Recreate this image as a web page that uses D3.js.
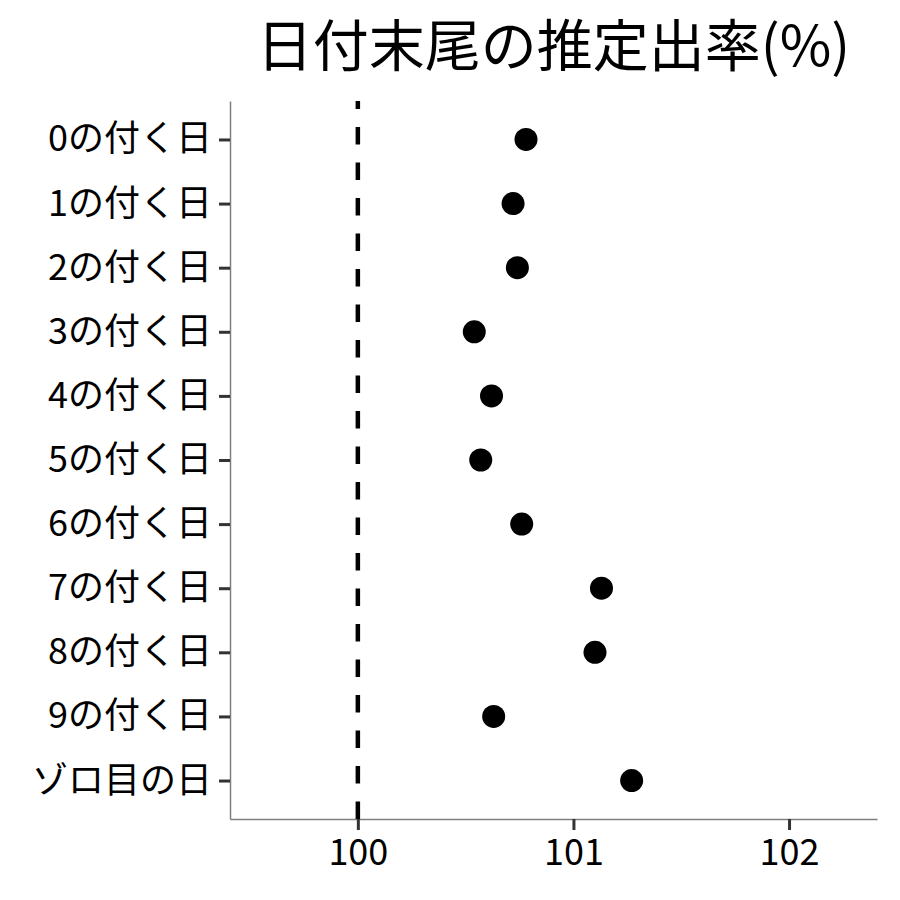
<!DOCTYPE html>
<html>
<head>
<meta charset="utf-8">
<script src="https://cdn.jsdelivr.net/npm/d3@7"></script>
<style>
  body { margin: 0; background: #fff; }
  text { font-family: "Noto Sans CJK JP", "Noto Sans", sans-serif; }
</style>
</head>
<body>
<div id="chart"></div>
<script>
// data
var categories = ["0の付く日", "1の付く日", "2の付く日", "3の付く日", "4の付く日",
  "5の付く日", "6の付く日", "7の付く日", "8の付く日", "9の付く日", "ゾロ目の日"];
var rates = [100.78, 100.72, 100.74, 100.54, 100.62, 100.57, 100.76, 101.13, 101.10, 100.63, 101.27];
var xTicks = [100, 101, 102];
var refValue = 100;
var title = "日付末尾の推定出率(%)";

// dimensions
var margin = { top: 101, right: 23, bottom: 81, left: 230 },
  width = 900 - margin.left - margin.right,
  height = 900 - margin.top - margin.bottom;

var svg = d3.select("#chart")
  .append("svg")
  .attr("width", 900)
  .attr("height", 900)
  .append("g")
  .attr("transform", "translate(" + margin.left + "," + margin.top + ")");

var x = d3.scaleLinear()
  .domain([99.407, 102.408])
  .range([0, width]);

var y = d3.scalePoint()
  .domain(categories)
  .range([0, height])
  .padding(0.6);

// x axis
var xAxis = svg.append("g")
  .attr("transform", "translate(0," + height + ")")
  .call(d3.axisBottom(x).tickValues(xTicks).tickSizeInner(11).tickSizeOuter(0)
    .tickPadding(9).tickFormat(d3.format("d")));
xAxis.select(".domain").attr("stroke", "#7f7f7f").attr("stroke-width", 1.5);
xAxis.selectAll(".tick line").attr("stroke", "#333").attr("stroke-width", 3);
xAxis.selectAll(".tick text").attr("fill", "#000").style("font-size", "36px");

// y axis
var yAxis = svg.append("g")
  .call(d3.axisLeft(y).tickSizeInner(11).tickSizeOuter(0).tickPadding(7));
yAxis.select(".domain").attr("stroke", "#7f7f7f").attr("stroke-width", 1.5);
yAxis.selectAll(".tick line").attr("stroke", "#333").attr("stroke-width", 3);
yAxis.selectAll(".tick text").attr("fill", "#000").style("font-size", "36px");

// reference line (drawn bottom to top so dashes line up like the original)
svg.append("line")
  .attr("x1", x(refValue))
  .attr("x2", x(refValue))
  .attr("y1", height)
  .attr("y2", 0)
  .attr("stroke", "#000")
  .attr("stroke-width", 4.5)
  .attr("stroke-dasharray", "17.5,18");

// points
svg.selectAll(".dot")
  .data(rates)
  .join("circle")
  .attr("class", "dot")
  .attr("cx", function(d) { return x(d); })
  .attr("cy", function(d, i) { return y(categories[i]); })
  .attr("r", 11.5)
  .attr("fill", "#000");

// title
svg.append("text")
  .attr("x", width / 2)
  .attr("y", -35)
  .attr("text-anchor", "middle")
  .style("font-size", "56px")
  .text(title);
</script>
</body>
</html>
